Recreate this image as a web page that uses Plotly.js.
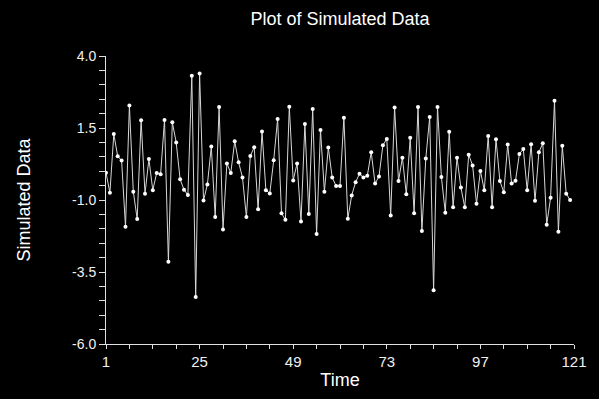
<!DOCTYPE html>
<html>
<head>
<meta charset="utf-8">
<script src="https://cdn.plot.ly/plotly-3.0.1.min.js"></script>
<style>html,body{margin:0;padding:0;background:#000;}#chart{width:599px;height:399px;}</style>
</head>
<body>
<div id="chart"></div>
<script>
const time = Array.from({length: 120}, (_, i) => i + 1);
const simulated = [
  -0.05, -0.75, 1.29, 0.52, 0.37, -1.93, 2.28, -0.71, -1.66, 1.77,
  -0.78, 0.42, -0.66, -0.06, -0.11, 1.78, -3.14, 1.70, 1.00, -0.28,
  -0.64, -0.83, 3.31, -4.37, 3.39, -1.02, -0.46, 0.86, -1.59, 2.23,
  -2.02, 0.27, -0.06, 1.04, 0.31, -0.22, -1.59, 0.53, 0.83, -1.32,
  1.38, -0.66, -0.77, 0.38, 1.81, -1.46, -1.69, 2.24, -0.32, 0.27,
  -1.75, 1.64, -1.49, 2.16, -2.18, 1.43, -0.71, 0.82, -0.22, -0.51,
  -0.51, 1.86, -1.65, -0.84, -0.38, -0.09, -0.22, -0.16, 0.66, -0.43,
  -0.18, 0.90, 1.12, -1.54, 2.21, -0.34, 0.47, -0.80, 1.16, -1.46,
  2.23, -2.08, 0.44, 1.88, -4.13, 2.23, -0.20, -1.44, 1.37, -1.25,
  0.47, -0.57, -1.25, 0.57, 0.20, -1.13, 0.01, -0.66, 1.22, -1.25,
  1.11, -0.34, -0.73, 0.93, -0.43, -0.33, 0.60, 0.77, -0.66, 0.94,
  -1.03, 0.66, 0.97, -1.86, -0.92, 2.45, -2.10, 0.88, -0.78, -1.00
];
const xTicks = [1, 25, 49, 73, 97, 121];
const yTicks = [4.0, 1.5, -1.0, -3.5, -6.0];
const titleText = 'Plot of Simulated Data';
const xTitle = 'Time';
const yTitle = 'Simulated Data';

const font = 'Liberation Sans, Arial, sans-serif';
const axisCol = '#e0e0e0';

Plotly.newPlot('chart', [{
  x: time, y: simulated, type: 'scatter', mode: 'lines+markers',
  line: {color: '#d8d8d8', width: 1},
  marker: {color: '#ffffff', size: 4},
  hoverinfo: 'x+y'
}], {
  width: 599, height: 399,
  paper_bgcolor: '#000', plot_bgcolor: '#000',
  margin: {l: 106, r: 25, t: 56, b: 55},
  showlegend: false,
  font: {family: font, color: '#ffffff'},
  title: {text: titleText, font: {size: 18, color: '#ffffff', family: font},
          x: 0.5, xref: 'paper', y: 1 - 19/399, yref: 'container', yanchor: 'middle'},
  xaxis: {
    range: [1, 121], tickvals: xTicks, ticktext: xTicks.map(String),
    showgrid: false, zeroline: false, showline: true, linecolor: axisCol, linewidth: 1,
    ticks: 'outside', ticklen: 4, tickcolor: axisCol, tickwidth: 1,
    minor: {tickmode: 'linear', tick0: 1, dtick: 6, ticks: 'outside', ticklen: 4, tickcolor: axisCol, showgrid: false},
    tickfont: {size: 15, color: '#f0f0f0', family: font},
    title: {text: xTitle, font: {size: 18, color: '#ffffff', family: font}, standoff: 4}
  },
  yaxis: {
    range: [-6, 4], tickvals: yTicks, ticktext: yTicks.map(v => v.toFixed(1)),
    showgrid: false, zeroline: false, showline: true, linecolor: axisCol, linewidth: 1,
    ticks: 'outside', ticklen: 6, tickcolor: axisCol, tickwidth: 1,
    minor: {tickmode: 'linear', tick0: -6, dtick: 0.5, ticks: 'outside', ticklen: 6, tickcolor: axisCol, showgrid: false},
    tickfont: {size: 14, color: '#f0f0f0', family: font},
    title: {text: yTitle, font: {size: 18, color: '#ffffff', family: font}, standoff: 36}
  }
}, {displayModeBar: false, staticPlot: true});
</script>
</body>
</html>
